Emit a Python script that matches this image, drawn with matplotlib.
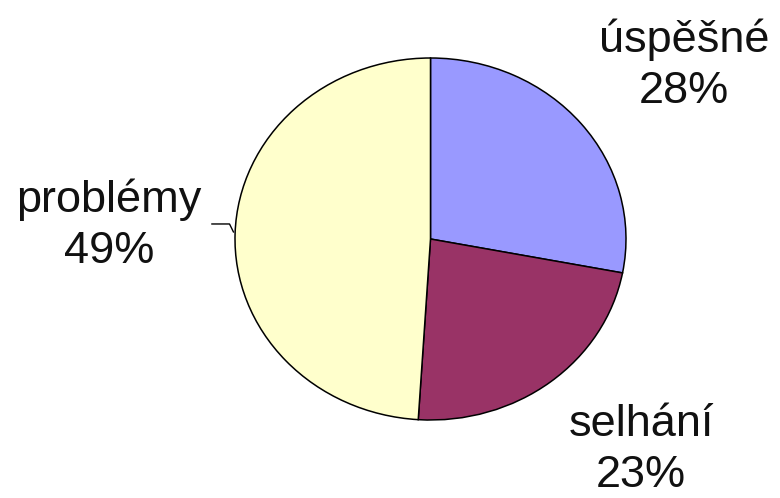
import matplotlib
matplotlib.use("Agg")
import matplotlib.pyplot as plt

# Outcome shares, clockwise from 12 o'clock
labels = ["úspěšné", "selhání", "problémy"]
shares = [28, 23, 49]
colors = ["#9999FF", "#993366", "#FFFFCC"]

# label anchor positions (data units, pie radius = 1)
label_pos = [(1.297, 0.96), (1.077, -1.165), (-1.645, 0.075)]

W, H = 780, 498
fig = plt.figure(figsize=(W / 100, H / 100), dpi=100)
# pie box in pixels: left 235, right 626, top 58, bottom 420
ax = fig.add_axes([235 / W, 1 - 420 / H, (626 - 235) / W, (420 - 58) / H])

wedges, _ = ax.pie(shares, colors=colors, startangle=90, counterclock=False,
                   radius=1.0, center=(0, 0),
                   wedgeprops=dict(edgecolor="black", linewidth=1.1))
ax.set_aspect("auto")
ax.set_xlim(-1, 1)
ax.set_ylim(-1, 1)
ax.axis("off")

for lab, val, (x, y) in zip(labels, shares, label_pos):
    ax.text(x, y, f"{lab}\n{val}%", ha="center", va="center",
            fontsize=32.5, family="Liberation Sans", color="#111111",
            linespacing=1.32, clip_on=False)

# leader line for the left label
ax.plot([-1.118, -1.028, -1.008], [0.083, 0.083, 0.039], color="black",
        linewidth=1.0, clip_on=False)

fig.savefig("out.png", dpi=100)
